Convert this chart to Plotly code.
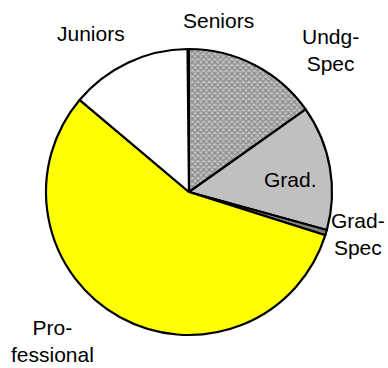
import plotly.graph_objects as go

W, H = 388, 368

labels = ["Seniors", "Undg-Spec", "Grad.", "Grad-Spec", "Professional", "Juniors"]
values = [0.15, 15.2, 14.1, 0.6, 56.25, 13.7]
colors = ["#ffffff", "#c8c8c8", "#c0c0c0", "#808080", "#ffff00", "#ffffff"]
shapes = ["", "x", "", "", "", ""]

# label text and pixel centre positions
label_texts = ["Juniors", "Seniors", "Undg-<br>Spec", "Grad.", "Grad-<br>Spec", "Pro-<br>fessional"]
label_pos = [(91, 33), (218, 21), (330, 50), (290, 180), (358, 234), (52, 341)]

cx, cy, r = 189, 192, 143

fig = go.Figure(go.Pie(
    labels=labels,
    values=values,
    sort=False,
    direction="clockwise",
    rotation=-0.6,
    textinfo="none",
    hoverinfo="skip",
    marker=dict(
        colors=colors,
        line=dict(color="black", width=2.2),
        pattern=dict(shape=shapes, fgcolor="#8a8a8a", bgcolor="#c4c4c4", size=4, solidity=0.55),
    ),
    domain=dict(x=[(cx - r) / W, (cx + r) / W], y=[1 - (cy + r) / H, 1 - (cy - r) / H]),
    showlegend=False,
))

for t, (x, y) in zip(label_texts, label_pos):
    fig.add_annotation(
        x=x / W, y=1 - y / H, xref="paper", yref="paper",
        text=t, showarrow=False, xanchor="center", yanchor="middle",
        font=dict(family="Liberation Sans, Arial, sans-serif", size=21, color="black"),
    )

fig.update_layout(
    width=W, height=H,
    margin=dict(l=0, r=0, t=0, b=0),
    paper_bgcolor="white",
    plot_bgcolor="white",
)

fig.write_html(
    "out.html",
    config={"displayModeBar": False},
    post_script="document.body.style.margin='0px';document.body.style.overflow='hidden';",
)
